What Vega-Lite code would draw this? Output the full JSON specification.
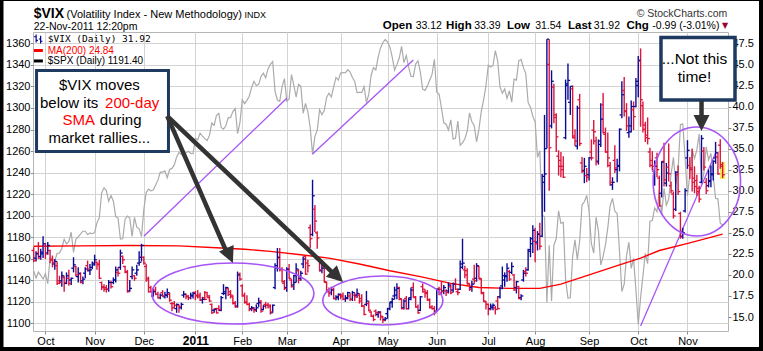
{
"$schema": "https://vega.github.io/schema/vega-lite/v6.json",
"width": 695, "height": 299,
"autosize": {"type": "none"},
"padding": {"left": 33, "top": 32, "right": 35, "bottom": 20},
"background": "#ffffff",
"config": {
 "view": {"stroke": "#b5b5b5"},
 "axis": {"labelFont": "Liberation Sans", "labelFontSize": 11, "labelColor": "#000000", "tickColor": "#888888", "domainColor": "#999999", "gridColor": "#d3d3d3", "gridWidth": 1, "labelOverlap": false},
 "text": {"font": "Liberation Sans"}
},
"datasets": {
"px": [
{"d":"2010-09-24","o":22.9,"h":23.3,"l":21.5,"c":21.7,"s":1148.7},
{"d":"2010-09-27","o":22.0,"h":22.8,"l":21.6,"c":22.5,"s":1142.2},
{"d":"2010-09-28","o":22.6,"h":23.9,"l":21.9,"c":22.0,"s":1147.7},
{"d":"2010-09-29","o":22.2,"h":23.1,"l":21.8,"c":22.7,"s":1144.7},
{"d":"2010-09-30","o":22.5,"h":24.6,"l":22.0,"c":23.7,"s":1141.2},
{"d":"2010-10-01","o":23.4,"h":23.8,"l":21.9,"c":22.5,"s":1146.2},
{"d":"2010-10-04","o":22.6,"h":23.9,"l":22.4,"c":23.5,"s":1137.0},
{"d":"2010-10-05","o":22.9,"h":23.0,"l":21.4,"c":21.8,"s":1160.8},
{"d":"2010-10-06","o":21.8,"h":22.3,"l":20.9,"c":21.5,"s":1160.0},
{"d":"2010-10-07","o":21.3,"h":21.9,"l":20.6,"c":21.6,"s":1158.1},
{"d":"2010-10-08","o":21.1,"h":21.6,"l":18.8,"c":19.0,"s":1165.2},
{"d":"2010-10-11","o":19.3,"h":19.9,"l":18.9,"c":19.1,"s":1165.3},
{"d":"2010-10-12","o":19.3,"h":20.4,"l":18.6,"c":19.9,"s":1169.8},
{"d":"2010-10-13","o":19.7,"h":19.9,"l":18.0,"c":19.1,"s":1178.1},
{"d":"2010-10-14","o":19.0,"h":20.3,"l":18.9,"c":19.9,"s":1173.8},
{"d":"2010-10-15","o":19.6,"h":20.6,"l":18.7,"c":19.0,"s":1176.2},
{"d":"2010-10-18","o":19.4,"h":19.7,"l":18.8,"c":19.6,"s":1184.7},
{"d":"2010-10-19","o":20.8,"h":22.1,"l":20.3,"c":21.2,"s":1165.9},
{"d":"2010-10-20","o":21.0,"h":21.1,"l":19.8,"c":20.0,"s":1178.2},
{"d":"2010-10-21","o":19.8,"h":20.9,"l":19.1,"c":20.2,"s":1180.3},
{"d":"2010-10-22","o":20.1,"h":20.3,"l":19.0,"c":19.1,"s":1183.1},
{"d":"2010-10-25","o":19.3,"h":19.8,"l":18.9,"c":19.5,"s":1185.6},
{"d":"2010-10-26","o":20.2,"h":20.9,"l":19.6,"c":20.7,"s":1185.6},
{"d":"2010-10-27","o":21.1,"h":21.7,"l":20.4,"c":20.7,"s":1182.5},
{"d":"2010-10-28","o":20.5,"h":21.3,"l":20.0,"c":20.6,"s":1183.8},
{"d":"2010-10-29","o":20.9,"h":21.6,"l":20.7,"c":21.2,"s":1183.3},
{"d":"2010-11-01","o":21.4,"h":22.4,"l":21.1,"c":21.8,"s":1184.4},
{"d":"2010-11-02","o":21.5,"h":21.6,"l":20.6,"c":21.3,"s":1193.6},
{"d":"2010-11-03","o":21.2,"h":21.8,"l":19.5,"c":19.6,"s":1198.0},
{"d":"2010-11-04","o":19.1,"h":19.2,"l":18.2,"c":18.5,"s":1221.1},
{"d":"2010-11-05","o":18.6,"h":18.9,"l":18.0,"c":18.3,"s":1225.9},
{"d":"2010-11-08","o":18.5,"h":18.8,"l":17.9,"c":18.3,"s":1223.3},
{"d":"2010-11-09","o":18.3,"h":19.4,"l":18.0,"c":19.1,"s":1213.4},
{"d":"2010-11-10","o":19.1,"h":19.3,"l":18.4,"c":18.6,"s":1218.7},
{"d":"2010-11-11","o":19.1,"h":19.7,"l":18.9,"c":19.4,"s":1213.5},
{"d":"2010-11-12","o":19.4,"h":21.0,"l":19.1,"c":20.6,"s":1199.2},
{"d":"2010-11-15","o":20.3,"h":20.9,"l":19.8,"c":20.2,"s":1197.8},
{"d":"2010-11-16","o":20.9,"h":23.0,"l":20.6,"c":22.6,"s":1178.3},
{"d":"2010-11-17","o":22.2,"h":22.3,"l":21.3,"c":21.8,"s":1178.6},
{"d":"2010-11-18","o":21.0,"h":21.1,"l":20.2,"c":20.4,"s":1196.7},
{"d":"2010-11-19","o":20.3,"h":20.6,"l":17.9,"c":18.0,"s":1199.7},
{"d":"2010-11-22","o":18.1,"h":19.4,"l":18.0,"c":18.4,"s":1197.8},
{"d":"2010-11-23","o":19.8,"h":21.0,"l":19.5,"c":20.6,"s":1180.7},
{"d":"2010-11-24","o":19.9,"h":20.0,"l":19.3,"c":19.6,"s":1198.4},
{"d":"2010-11-26","o":20.2,"h":21.2,"l":19.9,"c":20.6,"s":1189.4},
{"d":"2010-11-29","o":21.4,"h":22.8,"l":21.1,"c":21.5,"s":1187.8},
{"d":"2010-11-30","o":22.1,"h":23.7,"l":21.6,"c":23.5,"s":1180.6},
{"d":"2010-12-01","o":22.1,"h":22.2,"l":21.2,"c":21.4,"s":1206.1},
{"d":"2010-12-02","o":21.0,"h":21.3,"l":19.2,"c":19.4,"s":1221.5},
{"d":"2010-12-03","o":19.6,"h":19.8,"l":17.9,"c":18.0,"s":1224.7},
{"d":"2010-12-06","o":18.5,"h":18.7,"l":17.9,"c":18.0,"s":1223.1},
{"d":"2010-12-07","o":17.5,"h":18.4,"l":17.4,"c":18.0,"s":1223.8},
{"d":"2010-12-08","o":18.2,"h":18.6,"l":17.6,"c":17.7,"s":1228.3},
{"d":"2010-12-09","o":17.7,"h":18.0,"l":17.2,"c":17.3,"s":1233.0},
{"d":"2010-12-10","o":17.3,"h":17.8,"l":17.1,"c":17.6,"s":1240.4},
{"d":"2010-12-13","o":17.9,"h":18.2,"l":17.4,"c":17.5,"s":1240.5},
{"d":"2010-12-14","o":17.4,"h":18.0,"l":17.2,"c":17.6,"s":1241.6},
{"d":"2010-12-15","o":17.6,"h":18.4,"l":17.3,"c":17.9,"s":1235.2},
{"d":"2010-12-16","o":17.7,"h":17.9,"l":16.8,"c":17.0,"s":1242.9},
{"d":"2010-12-17","o":16.6,"h":16.8,"l":15.7,"c":16.1,"s":1243.9},
{"d":"2010-12-20","o":16.6,"h":16.9,"l":16.0,"c":16.4,"s":1247.1},
{"d":"2010-12-21","o":16.0,"h":16.6,"l":15.5,"c":16.5,"s":1254.6},
{"d":"2010-12-22","o":16.4,"h":16.5,"l":15.5,"c":16.2,"s":1258.8},
{"d":"2010-12-23","o":16.1,"h":16.7,"l":15.9,"c":16.5,"s":1256.8},
{"d":"2010-12-27","o":17.6,"h":18.1,"l":17.3,"c":17.7,"s":1257.5},
{"d":"2010-12-28","o":17.7,"h":17.8,"l":17.1,"c":17.5,"s":1258.5},
{"d":"2010-12-29","o":17.4,"h":17.6,"l":17.0,"c":17.3,"s":1259.8},
{"d":"2010-12-30","o":17.3,"h":17.9,"l":17.1,"c":17.5,"s":1257.9},
{"d":"2010-12-31","o":17.6,"h":18.0,"l":17.2,"c":17.8,"s":1257.6},
{"d":"2011-01-03","o":17.9,"h":18.1,"l":17.0,"c":17.6,"s":1271.9},
{"d":"2011-01-04","o":17.5,"h":18.2,"l":17.2,"c":17.4,"s":1270.2},
{"d":"2011-01-05","o":17.6,"h":17.9,"l":16.9,"c":17.0,"s":1276.6},
{"d":"2011-01-06","o":17.0,"h":17.4,"l":16.6,"c":17.1,"s":1273.9},
{"d":"2011-01-07","o":17.3,"h":18.1,"l":17.0,"c":17.1,"s":1271.5},
{"d":"2011-01-10","o":17.9,"h":18.0,"l":17.3,"c":17.5,"s":1269.8},
{"d":"2011-01-11","o":17.3,"h":17.6,"l":16.8,"c":16.9,"s":1274.5},
{"d":"2011-01-12","o":16.5,"h":16.6,"l":15.4,"c":15.5,"s":1286.0},
{"d":"2011-01-13","o":15.8,"h":16.0,"l":15.5,"c":15.9,"s":1283.8},
{"d":"2011-01-14","o":16.0,"h":16.1,"l":15.4,"c":15.5,"s":1293.2},
{"d":"2011-01-18","o":16.0,"h":16.4,"l":15.7,"c":15.9,"s":1295.0},
{"d":"2011-01-19","o":15.8,"h":17.5,"l":15.7,"c":17.3,"s":1281.9},
{"d":"2011-01-20","o":17.8,"h":18.9,"l":17.6,"c":18.0,"s":1280.3},
{"d":"2011-01-21","o":17.8,"h":18.6,"l":17.1,"c":18.5,"s":1283.4},
{"d":"2011-01-24","o":18.4,"h":18.5,"l":17.5,"c":17.7,"s":1290.8},
{"d":"2011-01-25","o":18.0,"h":18.2,"l":17.2,"c":17.6,"s":1291.2},
{"d":"2011-01-26","o":17.4,"h":17.6,"l":16.5,"c":16.6,"s":1296.6},
{"d":"2011-01-27","o":16.7,"h":16.9,"l":16.1,"c":16.2,"s":1299.5},
{"d":"2011-01-28","o":16.3,"h":20.4,"l":16.1,"c":20.0,"s":1276.3},
{"d":"2011-01-31","o":20.1,"h":20.3,"l":19.3,"c":19.5,"s":1286.1},
{"d":"2011-02-01","o":18.7,"h":18.9,"l":17.4,"c":17.6,"s":1307.6},
{"d":"2011-02-02","o":17.5,"h":17.9,"l":16.6,"c":16.7,"s":1304.0},
{"d":"2011-02-03","o":16.8,"h":17.6,"l":16.4,"c":16.5,"s":1307.1},
{"d":"2011-02-04","o":16.5,"h":16.7,"l":15.7,"c":15.9,"s":1310.9},
{"d":"2011-02-07","o":16.0,"h":16.3,"l":15.7,"c":16.1,"s":1319.1},
{"d":"2011-02-08","o":16.0,"h":16.2,"l":15.5,"c":15.8,"s":1324.6},
{"d":"2011-02-09","o":15.9,"h":16.5,"l":15.6,"c":16.1,"s":1320.9},
{"d":"2011-02-10","o":16.6,"h":17.3,"l":16.2,"c":16.7,"s":1321.9},
{"d":"2011-02-11","o":16.9,"h":17.0,"l":15.5,"c":15.7,"s":1329.2},
{"d":"2011-02-14","o":15.9,"h":16.4,"l":15.8,"c":16.3,"s":1332.3},
{"d":"2011-02-15","o":16.5,"h":16.8,"l":16.0,"c":16.4,"s":1328.0},
{"d":"2011-02-16","o":16.4,"h":16.7,"l":16.0,"c":16.2,"s":1336.3},
{"d":"2011-02-17","o":16.4,"h":16.5,"l":15.3,"c":15.6,"s":1340.4},
{"d":"2011-02-18","o":15.5,"h":16.5,"l":15.5,"c":16.4,"s":1343.0},
{"d":"2011-02-22","o":18.5,"h":21.4,"l":18.3,"c":20.8,"s":1315.4},
{"d":"2011-02-23","o":21.1,"h":23.2,"l":20.4,"c":22.1,"s":1307.4},
{"d":"2011-02-24","o":22.0,"h":23.2,"l":20.4,"c":20.7,"s":1306.1},
{"d":"2011-02-25","o":20.6,"h":20.9,"l":19.1,"c":19.2,"s":1319.9},
{"d":"2011-02-28","o":19.0,"h":19.4,"l":18.2,"c":18.4,"s":1327.2},
{"d":"2011-03-01","o":18.5,"h":20.9,"l":18.0,"c":20.7,"s":1306.3},
{"d":"2011-03-02","o":20.6,"h":21.3,"l":19.5,"c":19.6,"s":1308.4},
{"d":"2011-03-03","o":19.4,"h":19.5,"l":18.5,"c":18.6,"s":1331.0},
{"d":"2011-03-04","o":18.8,"h":20.0,"l":18.2,"c":19.1,"s":1321.2},
{"d":"2011-03-07","o":19.9,"h":21.4,"l":19.1,"c":20.7,"s":1310.1},
{"d":"2011-03-08","o":20.5,"h":20.7,"l":19.0,"c":19.4,"s":1321.8},
{"d":"2011-03-09","o":19.6,"h":20.5,"l":19.3,"c":20.2,"s":1320.0},
{"d":"2011-03-10","o":21.3,"h":22.2,"l":20.8,"c":21.9,"s":1295.1},
{"d":"2011-03-11","o":22.2,"h":22.3,"l":20.0,"c":20.1,"s":1304.3},
{"d":"2011-03-14","o":21.4,"h":21.8,"l":20.3,"c":21.1,"s":1296.4},
{"d":"2011-03-15","o":25.6,"h":26.0,"l":23.2,"c":24.3,"s":1281.9},
{"d":"2011-03-16","o":24.8,"h":31.3,"l":24.6,"c":29.4,"s":1256.9},
{"d":"2011-03-17","o":27.8,"h":28.3,"l":25.1,"c":26.4,"s":1273.7},
{"d":"2011-03-18","o":25.0,"h":25.2,"l":23.1,"c":24.4,"s":1279.2},
{"d":"2011-03-21","o":21.8,"h":22.0,"l":20.4,"c":20.6,"s":1298.4},
{"d":"2011-03-22","o":20.5,"h":21.4,"l":20.2,"c":20.8,"s":1293.8},
{"d":"2011-03-23","o":21.0,"h":21.3,"l":19.1,"c":19.2,"s":1297.5},
{"d":"2011-03-24","o":19.1,"h":19.2,"l":17.9,"c":18.0,"s":1309.7},
{"d":"2011-03-25","o":18.2,"h":18.5,"l":17.4,"c":17.9,"s":1313.8},
{"d":"2011-03-28","o":17.9,"h":18.6,"l":17.6,"c":18.2,"s":1310.2},
{"d":"2011-03-29","o":18.3,"h":18.5,"l":17.1,"c":17.2,"s":1319.4},
{"d":"2011-03-30","o":17.2,"h":17.6,"l":17.0,"c":17.4,"s":1328.3},
{"d":"2011-03-31","o":17.3,"h":17.8,"l":17.0,"c":17.7,"s":1325.8},
{"d":"2011-04-01","o":17.6,"h":17.8,"l":17.1,"c":17.4,"s":1332.4},
{"d":"2011-04-04","o":17.6,"h":17.9,"l":17.0,"c":17.1,"s":1332.9},
{"d":"2011-04-05","o":17.1,"h":17.6,"l":16.8,"c":17.2,"s":1332.6},
{"d":"2011-04-06","o":17.3,"h":18.0,"l":17.1,"c":17.9,"s":1335.5},
{"d":"2011-04-07","o":17.5,"h":17.9,"l":16.9,"c":17.1,"s":1333.5},
{"d":"2011-04-08","o":17.1,"h":18.1,"l":16.9,"c":17.9,"s":1328.2},
{"d":"2011-04-11","o":17.6,"h":17.9,"l":16.9,"c":17.4,"s":1324.5},
{"d":"2011-04-12","o":17.6,"h":18.4,"l":17.3,"c":17.8,"s":1314.2},
{"d":"2011-04-13","o":17.6,"h":17.8,"l":16.6,"c":16.9,"s":1314.4},
{"d":"2011-04-14","o":17.2,"h":17.7,"l":16.2,"c":16.3,"s":1314.5},
{"d":"2011-04-15","o":16.3,"h":16.4,"l":15.2,"c":15.3,"s":1319.7},
{"d":"2011-04-18","o":16.5,"h":18.1,"l":16.3,"c":16.9,"s":1305.1},
{"d":"2011-04-19","o":16.6,"h":16.9,"l":15.7,"c":15.8,"s":1312.6},
{"d":"2011-04-20","o":15.6,"h":15.7,"l":15.0,"c":15.1,"s":1330.4},
{"d":"2011-04-21","o":15.1,"h":15.3,"l":14.5,"c":14.7,"s":1337.4},
{"d":"2011-04-25","o":15.7,"h":15.9,"l":15.1,"c":15.5,"s":1335.3},
{"d":"2011-04-26","o":15.3,"h":15.7,"l":14.9,"c":15.6,"s":1347.2},
{"d":"2011-04-27","o":15.5,"h":15.7,"l":14.6,"c":15.1,"s":1355.7},
{"d":"2011-04-28","o":15.0,"h":15.1,"l":14.3,"c":14.6,"s":1360.5},
{"d":"2011-04-29","o":14.7,"h":15.0,"l":14.5,"c":14.8,"s":1363.6},
{"d":"2011-05-02","o":15.4,"h":16.1,"l":14.8,"c":16.0,"s":1361.2},
{"d":"2011-05-03","o":16.0,"h":16.8,"l":15.8,"c":16.7,"s":1356.6},
{"d":"2011-05-04","o":16.8,"h":17.3,"l":16.1,"c":17.1,"s":1347.3},
{"d":"2011-05-05","o":17.5,"h":18.6,"l":17.1,"c":18.2,"s":1335.1},
{"d":"2011-05-06","o":17.6,"h":19.0,"l":17.1,"c":18.4,"s":1340.2},
{"d":"2011-05-09","o":18.5,"h":18.6,"l":17.0,"c":17.2,"s":1346.3},
{"d":"2011-05-10","o":17.1,"h":17.2,"l":15.9,"c":16.0,"s":1357.2},
{"d":"2011-05-11","o":16.1,"h":17.1,"l":15.9,"c":16.9,"s":1342.1},
{"d":"2011-05-12","o":17.2,"h":17.5,"l":15.9,"c":16.0,"s":1348.7},
{"d":"2011-05-13","o":16.0,"h":17.3,"l":15.9,"c":17.1,"s":1337.8},
{"d":"2011-05-16","o":17.3,"h":18.5,"l":17.0,"c":18.2,"s":1329.5},
{"d":"2011-05-17","o":18.5,"h":19.1,"l":17.3,"c":17.4,"s":1329.0},
{"d":"2011-05-18","o":17.3,"h":17.5,"l":16.1,"c":16.2,"s":1340.7},
{"d":"2011-05-19","o":16.2,"h":16.5,"l":15.4,"c":15.5,"s":1343.6},
{"d":"2011-05-20","o":15.8,"h":17.5,"l":15.7,"c":17.4,"s":1333.3},
{"d":"2011-05-23","o":18.6,"h":19.0,"l":17.9,"c":18.3,"s":1317.4},
{"d":"2011-05-24","o":18.0,"h":18.3,"l":17.3,"c":17.8,"s":1316.3},
{"d":"2011-05-25","o":17.9,"h":18.2,"l":16.9,"c":17.1,"s":1320.5},
{"d":"2011-05-26","o":17.0,"h":17.2,"l":16.0,"c":16.1,"s":1325.7},
{"d":"2011-05-27","o":16.2,"h":16.4,"l":15.9,"c":16.0,"s":1331.1},
{"d":"2011-05-31","o":16.0,"h":16.3,"l":15.2,"c":15.5,"s":1345.2},
{"d":"2011-06-01","o":15.7,"h":18.4,"l":15.6,"c":18.3,"s":1314.6},
{"d":"2011-06-02","o":18.3,"h":18.6,"l":17.6,"c":17.9,"s":1312.9},
{"d":"2011-06-03","o":18.3,"h":19.2,"l":17.6,"c":18.0,"s":1300.2},
{"d":"2011-06-06","o":18.1,"h":18.8,"l":17.7,"c":18.5,"s":1286.2},
{"d":"2011-06-07","o":18.1,"h":18.3,"l":17.5,"c":17.9,"s":1284.9},
{"d":"2011-06-08","o":18.1,"h":19.1,"l":17.8,"c":18.8,"s":1279.6},
{"d":"2011-06-09","o":18.6,"h":18.9,"l":17.7,"c":17.9,"s":1289.0},
{"d":"2011-06-10","o":18.2,"h":19.1,"l":17.9,"c":18.9,"s":1271.0},
{"d":"2011-06-13","o":18.9,"h":19.6,"l":18.2,"c":18.3,"s":1271.8},
{"d":"2011-06-14","o":18.0,"h":18.4,"l":17.6,"c":17.9,"s":1287.9},
{"d":"2011-06-15","o":18.3,"h":21.7,"l":18.2,"c":21.3,"s":1265.4},
{"d":"2011-06-16","o":20.9,"h":24.3,"l":20.7,"c":21.4,"s":1267.6},
{"d":"2011-06-17","o":20.6,"h":21.1,"l":19.6,"c":20.0,"s":1271.5},
{"d":"2011-06-20","o":20.5,"h":20.8,"l":18.9,"c":19.0,"s":1278.4},
{"d":"2011-06-21","o":18.9,"h":19.0,"l":18.1,"c":18.3,"s":1295.5},
{"d":"2011-06-22","o":18.5,"h":19.3,"l":18.0,"c":18.9,"s":1287.1},
{"d":"2011-06-23","o":19.5,"h":21.2,"l":18.9,"c":19.3,"s":1283.5},
{"d":"2011-06-24","o":19.6,"h":21.4,"l":19.2,"c":21.1,"s":1268.5},
{"d":"2011-06-27","o":21.0,"h":21.1,"l":19.5,"c":19.6,"s":1280.1},
{"d":"2011-06-28","o":19.5,"h":19.6,"l":17.7,"c":17.9,"s":1296.7},
{"d":"2011-06-29","o":17.8,"h":18.0,"l":16.8,"c":16.9,"s":1307.4},
{"d":"2011-06-30","o":16.8,"h":16.9,"l":15.9,"c":16.5,"s":1320.6},
{"d":"2011-07-01","o":16.5,"h":16.6,"l":15.2,"c":15.9,"s":1339.7},
{"d":"2011-07-05","o":16.0,"h":16.6,"l":15.8,"c":16.3,"s":1337.9},
{"d":"2011-07-06","o":16.1,"h":16.6,"l":15.8,"c":16.4,"s":1339.2},
{"d":"2011-07-07","o":16.1,"h":16.3,"l":15.3,"c":15.9,"s":1353.2},
{"d":"2011-07-08","o":16.9,"h":17.5,"l":15.9,"c":16.0,"s":1343.8},
{"d":"2011-07-11","o":17.4,"h":18.6,"l":17.2,"c":18.4,"s":1319.5},
{"d":"2011-07-12","o":18.7,"h":21.0,"l":18.3,"c":19.9,"s":1313.6},
{"d":"2011-07-13","o":19.4,"h":20.3,"l":18.6,"c":19.9,"s":1317.7},
{"d":"2011-07-14","o":19.8,"h":21.4,"l":19.2,"c":20.8,"s":1308.9},
{"d":"2011-07-15","o":20.4,"h":20.6,"l":19.3,"c":19.5,"s":1316.1},
{"d":"2011-07-18","o":20.3,"h":21.5,"l":20.1,"c":21.0,"s":1305.4},
{"d":"2011-07-19","o":20.0,"h":20.1,"l":18.1,"c":18.2,"s":1326.7},
{"d":"2011-07-20","o":18.5,"h":19.3,"l":17.8,"c":19.2,"s":1325.8},
{"d":"2011-07-21","o":18.6,"h":18.7,"l":17.1,"c":17.2,"s":1343.8},
{"d":"2011-07-22","o":17.3,"h":17.7,"l":17.0,"c":17.5,"s":1345.0},
{"d":"2011-07-25","o":19.4,"h":20.6,"l":19.2,"c":20.2,"s":1337.4},
{"d":"2011-07-26","o":20.4,"h":20.9,"l":19.8,"c":20.2,"s":1331.9},
{"d":"2011-07-27","o":20.6,"h":23.1,"l":20.5,"c":23.0,"s":1304.9},
{"d":"2011-07-28","o":22.8,"h":24.5,"l":22.1,"c":23.7,"s":1300.7},
{"d":"2011-07-29","o":24.3,"h":25.9,"l":22.6,"c":25.3,"s":1292.3},
{"d":"2011-08-01","o":24.0,"h":25.6,"l":21.5,"c":23.7,"s":1286.9},
{"d":"2011-08-02","o":23.9,"h":25.2,"l":22.9,"c":24.8,"s":1254.1},
{"d":"2011-08-03","o":24.9,"h":26.2,"l":23.0,"c":23.4,"s":1260.3},
{"d":"2011-08-04","o":24.6,"h":32.0,"l":24.5,"c":31.7,"s":1200.1},
{"d":"2011-08-05","o":31.0,"h":39.0,"l":27.5,"c":32.0,"s":1199.4},
{"d":"2011-08-08","o":35.0,"h":48.0,"l":35.0,"c":48.0,"s":1119.5},
{"d":"2011-08-09","o":45.0,"h":48.0,"l":30.0,"c":35.1,"s":1172.5},
{"d":"2011-08-10","o":37.7,"h":44.3,"l":37.4,"c":43.0,"s":1120.8},
{"d":"2011-08-11","o":42.3,"h":42.7,"l":38.0,"c":39.0,"s":1172.6},
{"d":"2011-08-12","o":38.7,"h":39.2,"l":34.6,"c":36.4,"s":1178.8},
{"d":"2011-08-15","o":34.1,"h":34.8,"l":31.8,"c":32.9,"s":1204.5},
{"d":"2011-08-16","o":33.6,"h":34.6,"l":31.6,"c":32.9,"s":1192.8},
{"d":"2011-08-17","o":32.5,"h":34.1,"l":31.5,"c":31.6,"s":1193.9},
{"d":"2011-08-18","o":36.3,"h":43.2,"l":36.1,"c":42.7,"s":1140.7},
{"d":"2011-08-19","o":42.5,"h":45.1,"l":40.8,"c":43.1,"s":1123.5},
{"d":"2011-08-22","o":40.5,"h":42.4,"l":39.0,"c":42.4,"s":1123.8},
{"d":"2011-08-23","o":42.1,"h":42.5,"l":36.2,"c":36.3,"s":1162.4},
{"d":"2011-08-24","o":36.5,"h":37.3,"l":35.3,"c":35.9,"s":1177.6},
{"d":"2011-08-25","o":35.3,"h":40.1,"l":34.9,"c":39.8,"s":1159.3},
{"d":"2011-08-26","o":40.8,"h":41.5,"l":35.3,"c":35.6,"s":1176.8},
{"d":"2011-08-29","o":33.3,"h":34.0,"l":32.1,"c":32.3,"s":1210.1},
{"d":"2011-08-30","o":32.4,"h":33.9,"l":30.9,"c":32.9,"s":1212.9},
{"d":"2011-08-31","o":31.8,"h":32.7,"l":31.0,"c":31.6,"s":1218.9},
{"d":"2011-09-01","o":31.9,"h":34.0,"l":31.2,"c":33.9,"s":1204.4},
{"d":"2011-09-02","o":34.6,"h":36.1,"l":33.6,"c":33.9,"s":1174.0},
{"d":"2011-09-06","o":37.2,"h":38.4,"l":35.5,"c":37.0,"s":1165.2},
{"d":"2011-09-07","o":35.9,"h":36.4,"l":33.0,"c":33.4,"s":1198.6},
{"d":"2011-09-08","o":33.5,"h":36.1,"l":33.1,"c":35.9,"s":1185.9},
{"d":"2011-09-09","o":35.5,"h":40.4,"l":35.2,"c":38.5,"s":1154.2},
{"d":"2011-09-12","o":40.2,"h":41.6,"l":36.8,"c":36.9,"s":1162.3},
{"d":"2011-09-13","o":36.7,"h":37.5,"l":34.5,"c":34.6,"s":1172.9},
{"d":"2011-09-14","o":34.6,"h":36.9,"l":32.8,"c":33.9,"s":1188.7},
{"d":"2011-09-15","o":33.0,"h":33.4,"l":30.6,"c":31.0,"s":1209.1},
{"d":"2011-09-16","o":30.7,"h":31.6,"l":30.1,"c":31.0,"s":1216.0},
{"d":"2011-09-19","o":33.6,"h":35.4,"l":32.1,"c":32.7,"s":1204.1},
{"d":"2011-09-20","o":32.5,"h":33.8,"l":31.0,"c":32.9,"s":1202.1},
{"d":"2011-09-21","o":33.0,"h":37.4,"l":32.3,"c":37.3,"s":1166.8},
{"d":"2011-09-22","o":39.0,"h":43.0,"l":38.6,"c":41.4,"s":1129.6},
{"d":"2011-09-23","o":41.9,"h":43.5,"l":38.8,"c":39.4,"s":1136.4},
{"d":"2011-09-26","o":39.5,"h":40.4,"l":37.1,"c":37.7,"s":1163.0},
{"d":"2011-09-27","o":36.9,"h":38.8,"l":36.3,"c":37.7,"s":1175.4},
{"d":"2011-09-28","o":37.0,"h":40.7,"l":36.9,"c":40.0,"s":1151.1},
{"d":"2011-09-29","o":39.6,"h":40.6,"l":37.2,"c":38.8,"s":1160.4},
{"d":"2011-09-30","o":40.0,"h":43.4,"l":39.9,"c":43.0,"s":1131.4},
{"d":"2011-10-03","o":42.5,"h":46.0,"l":41.1,"c":45.5,"s":1099.2},
{"d":"2011-10-04","o":45.4,"h":46.9,"l":37.6,"c":40.8,"s":1124.0},
{"d":"2011-10-05","o":40.1,"h":40.6,"l":36.9,"c":37.8,"s":1144.0},
{"d":"2011-10-06","o":37.3,"h":38.2,"l":35.8,"c":36.3,"s":1165.0},
{"d":"2011-10-07","o":36.6,"h":38.7,"l":35.5,"c":36.2,"s":1155.5},
{"d":"2011-10-10","o":34.6,"h":35.1,"l":32.8,"c":33.0,"s":1194.9},
{"d":"2011-10-11","o":33.6,"h":34.7,"l":32.4,"c":32.9,"s":1195.5},
{"d":"2011-10-12","o":32.3,"h":33.6,"l":30.6,"c":32.9,"s":1207.3},
{"d":"2011-10-13","o":33.9,"h":34.5,"l":31.6,"c":32.5,"s":1203.7},
{"d":"2011-10-14","o":31.5,"h":31.8,"l":28.1,"c":28.2,"s":1224.6},
{"d":"2011-10-17","o":29.7,"h":33.5,"l":29.2,"c":33.4,"s":1200.9},
{"d":"2011-10-18","o":33.5,"h":35.7,"l":30.5,"c":31.3,"s":1225.4},
{"d":"2011-10-19","o":30.9,"h":33.3,"l":30.5,"c":32.1,"s":1209.9},
{"d":"2011-10-20","o":32.8,"h":35.6,"l":31.1,"c":32.0,"s":1215.4},
{"d":"2011-10-21","o":30.6,"h":31.1,"l":29.7,"c":30.0,"s":1238.3},
{"d":"2011-10-24","o":29.6,"h":29.9,"l":26.7,"c":27.0,"s":1254.2},
{"d":"2011-10-25","o":27.8,"h":32.3,"l":27.6,"c":32.2,"s":1229.1},
{"d":"2011-10-26","o":31.9,"h":33.0,"l":29.5,"c":29.9,"s":1242.0},
{"d":"2011-10-27","o":27.3,"h":27.5,"l":24.3,"c":24.5,"s":1284.6},
{"d":"2011-10-28","o":24.6,"h":25.6,"l":24.3,"c":25.0,"s":1285.1},
{"d":"2011-10-31","o":27.6,"h":30.3,"l":27.4,"c":30.0,"s":1253.3},
{"d":"2011-11-01","o":33.9,"h":36.0,"l":32.6,"c":34.8,"s":1218.3},
{"d":"2011-11-02","o":33.0,"h":34.0,"l":31.4,"c":32.7,"s":1237.9},
{"d":"2011-11-03","o":32.5,"h":35.0,"l":29.9,"c":31.0,"s":1261.2},
{"d":"2011-11-04","o":31.5,"h":32.9,"l":29.7,"c":30.5,"s":1253.2},
{"d":"2011-11-07","o":31.2,"h":31.9,"l":29.4,"c":29.9,"s":1261.1},
{"d":"2011-11-08","o":30.3,"h":30.6,"l":28.6,"c":29.0,"s":1275.9},
{"d":"2011-11-09","o":31.0,"h":36.6,"l":30.9,"c":36.2,"s":1229.1},
{"d":"2011-11-10","o":34.7,"h":35.2,"l":32.4,"c":32.8,"s":1239.7},
{"d":"2011-11-11","o":31.0,"h":31.5,"l":29.6,"c":30.0,"s":1263.9},
{"d":"2011-11-14","o":30.6,"h":32.5,"l":30.4,"c":31.1,"s":1251.8},
{"d":"2011-11-15","o":31.2,"h":33.0,"l":30.4,"c":32.0,"s":1257.8},
{"d":"2011-11-16","o":31.9,"h":33.6,"l":31.2,"c":33.5,"s":1236.9},
{"d":"2011-11-17","o":33.9,"h":35.8,"l":33.2,"c":34.5,"s":1216.1},
{"d":"2011-11-18","o":34.0,"h":34.6,"l":31.9,"c":32.0,"s":1215.7},
{"d":"2011-11-21","o":35.4,"h":36.1,"l":32.6,"c":32.9,"s":1193.0},
{"d":"2011-11-22","o":33.1,"h":33.4,"l":31.5,"c":31.9,"s":1191.4}
],
"ma": [
{"d":"2010-09-24","m":23.4},{"d":"2010-10-22","m":23.45},{"d":"2010-11-22","m":23.5},{"d":"2010-12-22","m":23.45},{"d":"2011-01-19","m":23.2},{"d":"2011-02-02","m":23.05},{"d":"2011-02-17","m":22.8},{"d":"2011-03-09","m":22.4},{"d":"2011-03-25","m":22.0},{"d":"2011-04-13","m":21.3},{"d":"2011-05-03","m":20.5},{"d":"2011-05-20","m":19.8},{"d":"2011-06-09","m":19.0},{"d":"2011-06-27","m":18.5},{"d":"2011-07-15","m":18.4},{"d":"2011-08-03","m":18.4},{"d":"2011-08-16","m":18.9},{"d":"2011-09-02","m":20.1},{"d":"2011-09-21","m":21.2},{"d":"2011-10-04","m":22.0},{"d":"2011-10-14","m":22.9},{"d":"2011-11-02","m":23.8},{"d":"2011-11-22","m":24.84}
]
},
"layer": [
{"layer": [
 {"data": {"name": "px"}, "mark": {"type": "line", "color": "#ababab", "strokeWidth": 1.2},
  "encoding": {
   "x": {"field": "d", "type": "ordinal",
    "scale": {"type": "point", "padding": 0.3, "domain": {"unionWith": ["2011-11-23", "2011-11-25"]}},
    "axis": {"values": ["2010-10-01","2010-11-01","2010-12-01","2011-01-03","2011-02-01","2011-03-01","2011-04-01","2011-05-02","2011-06-01","2011-07-01","2011-08-01","2011-09-01","2011-10-03","2011-11-01"],
     "labelExpr": "substring(datum.value,5,7)=='01' ? substring(datum.value,0,4) : ['Jan','Feb','Mar','Apr','May','Jun','Jul','Aug','Sep','Oct','Nov','Dec'][toNumber(substring(datum.value,5,7))-1]",
     "labelFontWeight": {"condition": {"test": "substring(datum.value,5,7)=='01'", "value": "bold"}, "value": "normal"},
     "labelFontSize": {"condition": {"test": "substring(datum.value,5,7)=='01'", "value": 12}, "value": 11},
     "grid": true, "tickSize": 3, "labelPadding": 1, "labelAngle": 0, "title": null, "labelOverlap": false, "domain": false, "orient": "bottom", "tickCount": 40}},
   "y": {"field": "s", "type": "quantitative", "scale": {"domain": [1093.0, 1370.5], "nice": false, "zero": false},
    "axis": {"orient": "left", "values": [1100,1120,1140,1160,1180,1200,1220,1240,1260,1280,1300,1320,1340,1360], "tickCount": 40, "format": "d", "grid": true, "tickSize": 2.5, "labelPadding": 0.5, "title": null, "domain": false, "labelOverlap": false}}
  }},
 {"data": {"values": [{}]}, "mark": {"type": "rule", "color": "#a855f7", "strokeWidth": 1.3},
  "encoding": {"x": {"datum": "2010-12-01", "type": "ordinal"}, "x2": {"datum": "2011-03-01"}, "y": {"datum": 1181}, "y2": {"datum": 1309}}},
 {"data": {"values": [{}]}, "mark": {"type": "rule", "color": "#a855f7", "strokeWidth": 1.3},
  "encoding": {"x": {"datum": "2011-03-16", "type": "ordinal"}, "x2": {"datum": "2011-05-17"}, "y": {"datum": 1257.3}, "y2": {"datum": 1344.5}}},
 {"data": {"values": [{}]}, "mark": {"type": "rule", "color": "#a855f7", "strokeWidth": 1.3},
  "encoding": {"x": {"datum": "2011-10-04", "type": "ordinal"}, "x2": {"datum": "2011-11-17"}, "y": {"datum": 1097.7}, "y2": {"datum": 1258.2}}}
]},
{"layer": [
 {"data": {"values": [{}]}, "mark": {"type": "rect", "color": "#f7ec55", "xOffset": -2.6, "x2Offset": 2.6},
  "encoding": {"x": {"datum": "2011-11-22", "type": "ordinal"}, "x2": {"datum": "2011-11-22"}, "y": {"datum": 33.42}, "y2": {"datum": 31.4}}},
 {"data": {"name": "ma"}, "mark": {"type": "line", "color": "#ff0000", "strokeWidth": 1.4},
  "encoding": {"x": {"field": "d", "type": "ordinal"}, "y": {"field": "m", "type": "quantitative"}}},
 {"data": {"name": "px"}, "mark": {"type": "rule", "strokeWidth": 1.4},
  "encoding": {"x": {"field": "d", "type": "ordinal"},
   "y": {"field": "l", "type": "quantitative", "scale": {"domain": [13.34, 48.85], "nice": false, "zero": false},
    "axis": {"orient": "right", "values": [15,17.5,20,22.5,25,27.5,30,32.5,35,37.5,40,42.5,45,47.5], "tickCount": 40, "format": ".1f", "grid": false, "tickSize": 3, "labelPadding": 1, "title": null, "domain": false, "labelOverlap": false}},
   "y2": {"field": "h"},
   "color": {"condition": {"test": "datum.c >= datum.o", "value": "#0a0a96"}, "value": "#dc143c"}}},
 {"data": {"name": "px"}, "mark": {"type": "point", "shape": "M-1,0H0", "size": 20, "strokeWidth": 1.3, "opacity": 1, "filled": false},
  "encoding": {"x": {"field": "d", "type": "ordinal"}, "y": {"field": "o", "type": "quantitative"},
   "color": {"condition": {"test": "datum.c >= datum.o", "value": "#0a0a96"}, "value": "#dc143c"}}},
 {"data": {"name": "px"}, "mark": {"type": "point", "shape": "M0,0H1", "size": 20, "strokeWidth": 1.3, "opacity": 1, "filled": false},
  "encoding": {"x": {"field": "d", "type": "ordinal"}, "y": {"field": "c", "type": "quantitative"},
   "color": {"condition": {"test": "datum.c >= datum.o", "value": "#0a0a96"}, "value": "#dc143c"}}},
 {"data": {"values": [{}]}, "mark": {"type": "point", "shape": "M-1,0A1,0.3765,0,1,0,1,0A1,0.3765,0,1,0,-1,0Z", "size": 26244, "filled": false, "opacity": 1, "color": "#a855f7", "strokeWidth": 1.6},
  "encoding": {"x": {"datum": "2011-01-26", "type": "ordinal"}, "y": {"datum": 17.79}}},
 {"data": {"values": [{}]}, "mark": {"type": "point", "shape": "M-1,0A1,0.4083,0,1,0,1,0A1,0.4083,0,1,0,-1,0Z", "size": 14400, "filled": false, "opacity": 1, "color": "#a855f7", "strokeWidth": 1.6},
  "encoding": {"x": {"datum": "2011-04-28", "type": "ordinal"}, "y": {"datum": 16.96}}},
 {"data": {"values": [{}]}, "mark": {"type": "point", "shape": "M-0.8018,0A0.8018,1,0,1,0,0.8018,0A0.8018,1,0,1,0,-0.8018,0Z", "size": 11881, "filled": false, "opacity": 1, "color": "#a855f7", "strokeWidth": 1.6},
  "encoding": {"x": {"datum": "2011-11-07", "type": "ordinal"}, "y": {"datum": 31.1}}},
 {"data": {"values": [{}]}, "mark": {"type": "rect", "fill": "#ffffff", "stroke": "#1f3a60", "strokeWidth": 3, "xOffset": 0.5, "x2Offset": 1.2},
  "encoding": {"x": {"datum": "2010-09-27", "type": "ordinal"}, "x2": {"datum": "2010-12-15"}, "y": {"datum": 44.28}, "y2": {"datum": 34.66}}},
 {"data": {"values": [{}]}, "mark": {"type": "rect", "fill": "#ffffff", "stroke": "#1f3a60", "strokeWidth": 3.5, "xOffset": -0.7, "x2Offset": 7.7},
  "encoding": {"x": {"datum": "2011-10-17", "type": "ordinal"}, "x2": {"datum": "2011-11-25"}, "y": {"datum": 48.2}, "y2": {"datum": 40.78}}},
 {"data": {"values": [{}]}, "mark": {"type": "rule", "color": "#333333", "strokeWidth": 4.5},
  "encoding": {"x": {"datum": "2010-12-15", "type": "ordinal"}, "x2": {"datum": "2011-01-24"}, "y": {"datum": 38.87}, "y2": {"datum": 22.28}}},
 {"data": {"values": [{}]}, "mark": {"type": "rule", "color": "#333333", "strokeWidth": 4.5},
  "encoding": {"x": {"datum": "2010-12-15", "type": "ordinal"}, "x2": {"datum": "2011-03-30"}, "y": {"datum": 38.87}, "y2": {"datum": 19.9}}},
 {"data": {"values": [{}]}, "mark": {"type": "rule", "color": "#333333", "strokeWidth": 4.5},
  "encoding": {"x": {"datum": "2011-11-09", "type": "ordinal"}, "y": {"datum": 40.66}, "y2": {"datum": 38.28}}},
 {"data": {"values": [{}]}, "mark": {"type": "point", "shape": "M0,0L-0.5,-1L0.5,-1Z", "size": 1024, "filled": true, "opacity": 1, "color": "#333333", "angle": 336},
  "encoding": {"x": {"datum": "2011-01-26", "type": "ordinal"}, "y": {"datum": 21.42}}},
 {"data": {"values": [{}]}, "mark": {"type": "point", "shape": "M0,0L-0.5,-1L0.5,-1Z", "size": 1024, "filled": true, "opacity": 1, "color": "#333333", "angle": 313.4},
  "encoding": {"x": {"datum": "2011-04-04", "type": "ordinal"}, "y": {"datum": 19.16}}},
 {"data": {"values": [{}]}, "mark": {"type": "point", "shape": "M0,0L-0.5,-1L0.5,-1Z", "size": 1024, "filled": true, "opacity": 1, "color": "#333333", "angle": 0},
  "encoding": {"x": {"datum": "2011-11-09", "type": "ordinal"}, "y": {"datum": 37.09}}},
 {"data": {"values": [{}]}, "mark": {"type": "text", "text": "$VIX", "fontSize": 14, "fontWeight": "bold", "align": "left", "baseline": "alphabetic", "color": "#000000"},
  "encoding": {"x": {"datum": "2010-09-24", "type": "ordinal"}, "y": {"datum": 50.51}}},
 {"data": {"values": [{}]}, "mark": {"type": "text", "text": "(Volatility Index - New Methodology)", "fontSize": 11, "align": "left", "baseline": "alphabetic", "color": "#000000"},
  "encoding": {"x": {"datum": "2010-10-14", "type": "ordinal"}, "y": {"datum": 50.51}}},
 {"data": {"values": [{}]}, "mark": {"type": "text", "text": "INDX", "fontSize": 9, "align": "left", "baseline": "alphabetic", "color": "#000000"},
  "encoding": {"x": {"datum": "2011-02-02", "type": "ordinal"}, "y": {"datum": 50.51}}},
 {"data": {"values": [{}]}, "mark": {"type": "text", "text": "22-Nov-2011 12:20pm", "fontSize": 10.5, "align": "left", "baseline": "alphabetic", "color": "#000000"},
  "encoding": {"x": {"datum": "2010-09-24", "type": "ordinal"}, "y": {"datum": 49.09}}},
 {"data": {"values": [{}]}, "mark": {"type": "text", "text": "© StockCharts.com", "fontSize": 10.5, "align": "right", "baseline": "alphabetic", "color": "#333333"},
  "encoding": {"x": {"datum": "2011-11-25", "type": "ordinal"}, "y": {"datum": 50.69}}},
 {"data": {"values": [{}]}, "mark": {"type": "text", "text": "Open", "fontSize": 11.5, "fontWeight": "bold", "align": "left", "baseline": "alphabetic", "color": "#000000"},
  "encoding": {"x": {"datum": "2011-04-28", "type": "ordinal"}, "y": {"datum": 49.15}}},
 {"data": {"values": [{}]}, "mark": {"type": "text", "text": "33.12", "fontSize": 10.5, "align": "left", "baseline": "alphabetic", "color": "#000000"},
  "encoding": {"x": {"datum": "2011-05-18", "type": "ordinal"}, "y": {"datum": 49.15}}},
 {"data": {"values": [{}]}, "mark": {"type": "text", "text": "High", "fontSize": 11.5, "fontWeight": "bold", "align": "left", "baseline": "alphabetic", "color": "#000000"},
  "encoding": {"x": {"datum": "2011-06-07", "type": "ordinal"}, "y": {"datum": 49.15}}},
 {"data": {"values": [{}]}, "mark": {"type": "text", "text": "33.39", "fontSize": 10.5, "align": "left", "baseline": "alphabetic", "color": "#000000"},
  "encoding": {"x": {"datum": "2011-06-23", "type": "ordinal"}, "y": {"datum": 49.15}}},
 {"data": {"values": [{}]}, "mark": {"type": "text", "text": "Low", "fontSize": 11.5, "fontWeight": "bold", "align": "left", "baseline": "alphabetic", "color": "#000000"},
  "encoding": {"x": {"datum": "2011-07-14", "type": "ordinal"}, "y": {"datum": 49.15}}},
 {"data": {"values": [{}]}, "mark": {"type": "text", "text": "31.54", "fontSize": 10.5, "align": "left", "baseline": "alphabetic", "color": "#000000"},
  "encoding": {"x": {"datum": "2011-08-01", "type": "ordinal"}, "y": {"datum": 49.15}}},
 {"data": {"values": [{}]}, "mark": {"type": "text", "text": "Last", "fontSize": 11.5, "fontWeight": "bold", "align": "left", "baseline": "alphabetic", "color": "#000000"},
  "encoding": {"x": {"datum": "2011-08-19", "type": "ordinal"}, "y": {"datum": 49.15}}},
 {"data": {"values": [{}]}, "mark": {"type": "text", "text": "31.92", "fontSize": 10.5, "align": "left", "baseline": "alphabetic", "color": "#000000"},
  "encoding": {"x": {"datum": "2011-09-06", "type": "ordinal"}, "y": {"datum": 49.15}}},
 {"data": {"values": [{}]}, "mark": {"type": "text", "text": "Chg", "fontSize": 11.5, "fontWeight": "bold", "align": "left", "baseline": "alphabetic", "color": "#000000"},
  "encoding": {"x": {"datum": "2011-09-26", "type": "ordinal"}, "y": {"datum": 49.15}}},
 {"data": {"values": [{}]}, "mark": {"type": "text", "text": "-0.99 (-3.01%)", "fontSize": 10.5, "align": "left", "baseline": "alphabetic", "color": "#000000"},
  "encoding": {"x": {"datum": "2011-10-11", "type": "ordinal"}, "y": {"datum": 49.15}}},
 {"data": {"values": [{}]}, "mark": {"type": "text", "text": "▼", "font": "DejaVu Sans", "fontSize": 8, "align": "center", "baseline": "middle", "color": "#990033"},
  "encoding": {"x": {"datum": "2011-11-23", "type": "ordinal"}, "y": {"datum": 49.56}}},
 {"data": {"values": [{}]}, "mark": {"type": "point", "shape": "M-0.5,-1V0.8M-1,-0.5H-0.5M-0.5,0.3H-0.1M0.5,-0.7V1M0.1,0H0.5M0.5,0.5H0.9", "size": 81, "filled": false, "opacity": 1, "strokeWidth": 1.2, "color": "#00008b"},
  "encoding": {"x": {"datum": "2010-09-28", "type": "ordinal"}, "y": {"datum": 48.02}}},
 {"data": {"values": [{}]}, "mark": {"type": "text", "text": "$VIX (Daily) 31.92", "font": "DejaVu Sans Mono", "fontSize": 9.5, "align": "left", "baseline": "middle", "color": "#000000"},
  "encoding": {"x": {"datum": "2010-10-04", "type": "ordinal"}, "y": {"datum": 48.02}}},
 {"data": {"values": [{}]}, "mark": {"type": "point", "shape": "M-1,0H1", "size": 81, "filled": false, "opacity": 1, "strokeWidth": 3, "color": "#ff0000"},
  "encoding": {"x": {"datum": "2010-09-28", "type": "ordinal"}, "y": {"datum": 46.65}}},
 {"data": {"values": [{}]}, "mark": {"type": "text", "text": "MA(200) 24.84", "fontSize": 10, "align": "left", "baseline": "middle", "color": "#ff0000"},
  "encoding": {"x": {"datum": "2010-10-04", "type": "ordinal"}, "y": {"datum": 46.65}}},
 {"data": {"values": [{}]}, "mark": {"type": "point", "shape": "M-1,0H1", "size": 81, "filled": false, "opacity": 1, "strokeWidth": 3, "color": "#000000"},
  "encoding": {"x": {"datum": "2010-09-28", "type": "ordinal"}, "y": {"datum": 45.41}}},
 {"data": {"values": [{}]}, "mark": {"type": "text", "text": "$SPX (Daily) 1191.40", "fontSize": 10, "align": "left", "baseline": "middle", "color": "#000000"},
  "encoding": {"x": {"datum": "2010-10-04", "type": "ordinal"}, "y": {"datum": 45.41}}},
 {"data": {"values": [{}]}, "mark": {"type": "text", "text": "$VIX moves", "fontSize": 15, "align": "center", "baseline": "middle", "color": "#000000"},
  "encoding": {"x": {"datum": "2010-11-03", "type": "ordinal"}, "y": {"datum": 42.56}}},
 {"data": {"values": [{}]}, "mark": {"type": "text", "text": "below its", "fontSize": 15, "align": "right", "baseline": "middle", "dx": -3.3, "color": "#000000"},
  "encoding": {"x": {"datum": "2010-11-04", "type": "ordinal"}, "y": {"datum": 40.42}}},
 {"data": {"values": [{}]}, "mark": {"type": "text", "text": "200-day", "fontSize": 15, "align": "left", "baseline": "middle", "dx": 3.4, "color": "#ff0000"},
  "encoding": {"x": {"datum": "2010-11-04", "type": "ordinal"}, "y": {"datum": 40.42}}},
 {"data": {"values": [{}]}, "mark": {"type": "text", "text": "SMA", "fontSize": 15, "align": "right", "baseline": "middle", "dx": -6.6, "color": "#ff0000"},
  "encoding": {"x": {"datum": "2010-11-04", "type": "ordinal"}, "y": {"datum": 38.34}}},
 {"data": {"values": [{}]}, "mark": {"type": "text", "text": "during", "fontSize": 15, "align": "left", "baseline": "middle", "dx": -1.8, "color": "#000000"},
  "encoding": {"x": {"datum": "2010-11-04", "type": "ordinal"}, "y": {"datum": 38.34}}},
 {"data": {"values": [{}]}, "mark": {"type": "text", "text": "market rallies...", "fontSize": 15, "align": "center", "baseline": "middle", "color": "#000000"},
  "encoding": {"x": {"datum": "2010-11-03", "type": "ordinal"}, "y": {"datum": 36.26}}},
 {"data": {"values": [{}]}, "mark": {"type": "text", "text": "...Not this", "fontSize": 15.5, "align": "center", "baseline": "middle", "color": "#000000"},
  "encoding": {"x": {"datum": "2011-11-04", "type": "ordinal"}, "y": {"datum": 45.7}}},
 {"data": {"values": [{}]}, "mark": {"type": "text", "text": "time!", "fontSize": 15.5, "align": "center", "baseline": "middle", "color": "#000000"},
  "encoding": {"x": {"datum": "2011-11-04", "type": "ordinal"}, "y": {"datum": 43.45}}},
 {"data": {"values": [{}]}, "mark": {"type": "rect", "fillOpacity": 0, "stroke": "#000000", "strokeWidth": 6, "xOffset": -33.2, "x2Offset": 34.7},
  "encoding": {"x": {"datum": "2010-09-24", "type": "ordinal"}, "x2": {"datum": "2011-11-25"}, "y": {"datum": 52.89}, "y2": {"datum": 11.08}}}
]}
],
"resolve": {"scale": {"y": "independent"}}
}
